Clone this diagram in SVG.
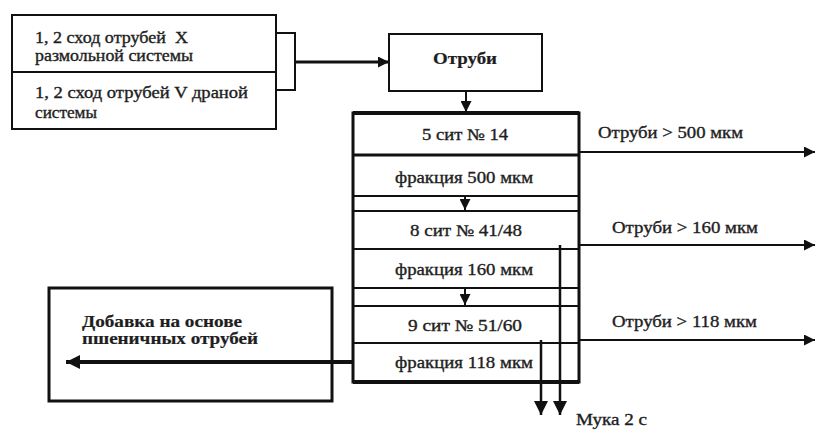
<svg xmlns="http://www.w3.org/2000/svg" width="815" height="430" viewBox="0 0 815 430">
<style>
  .box { fill: #fff; stroke: #111; }
  .ln { stroke: #111; fill: none; }
  .t { font-family: "Liberation Serif", "Times New Roman", serif; font-size: 16px; fill: #1e1e1e; stroke: #1e1e1e; stroke-width: 0.35px; }
  .b { font-weight: bold; stroke-width: 0.2px; }
  .c { text-anchor: middle; }
</style>
<defs>
  <marker id="ah" viewBox="0 0 10 10" refX="10" refY="5" markerWidth="11" markerHeight="11" markerUnits="userSpaceOnUse" orient="auto">
    <path d="M0,0 L10,5 L0,10 z" fill="#111"/>
  </marker>
  <marker id="ahL" viewBox="0 0 10 10" refX="10" refY="5" markerWidth="14" markerHeight="14" markerUnits="userSpaceOnUse" orient="auto">
    <path d="M0,0 L10,5 L0,10 z" fill="#111"/>
  </marker>
</defs>
<rect width="815" height="430" fill="#fff"/>

<g id="sources">
  <rect class="box" x="12" y="15" width="264" height="114" stroke-width="2"/>
  <line class="ln" x1="12" y1="72" x2="276" y2="72" stroke-width="2"/>
  <text class="t" x="35" y="43" textLength="153" lengthAdjust="spacingAndGlyphs">1, 2 сход отрубей&#160; X</text>
  <text class="t" x="35" y="61" textLength="158" lengthAdjust="spacingAndGlyphs">размольной системы</text>
  <text class="t" x="35" y="98" textLength="213" lengthAdjust="spacingAndGlyphs">1, 2 сход отрубей V драной</text>
  <text class="t" x="35" y="118" textLength="62" lengthAdjust="spacingAndGlyphs">системы</text>
</g>

<g id="bran">
  <rect class="box" x="389" y="34" width="153" height="57" stroke-width="2"/>
  <text class="t b c" x="465" y="64" textLength="64" lengthAdjust="spacingAndGlyphs">Отруби</text>
</g>

<g id="sieves">
  <rect class="box" x="353" y="113" width="226" height="269" stroke-width="3"/>
  <line class="ln" x1="353" y1="113" x2="579" y2="113" stroke-width="4"/>
  <line class="ln" x1="353" y1="155" x2="579" y2="155" stroke-width="3"/>
  <line class="ln" x1="353" y1="196" x2="579" y2="196" stroke-width="2"/>
  <line class="ln" x1="353" y1="211" x2="579" y2="211" stroke-width="2"/>
  <line class="ln" x1="353" y1="249" x2="579" y2="249" stroke-width="2"/>
  <line class="ln" x1="353" y1="288" x2="579" y2="288" stroke-width="2"/>
  <line class="ln" x1="353" y1="306" x2="579" y2="306" stroke-width="2"/>
  <line class="ln" x1="353" y1="343" x2="579" y2="343" stroke-width="2"/>
  <line class="ln" x1="353" y1="382" x2="579" y2="382" stroke-width="4"/>
  <text class="t c" x="465" y="140" textLength="86" lengthAdjust="spacingAndGlyphs">5 сит № 14</text>
  <text class="t c" x="464" y="183" textLength="138" lengthAdjust="spacingAndGlyphs">фракция 500 мкм</text>
  <text class="t c" x="466" y="236" textLength="112" lengthAdjust="spacingAndGlyphs">8 сит № 41/48</text>
  <text class="t c" x="464" y="275" textLength="138" lengthAdjust="spacingAndGlyphs">фракция 160 мкм</text>
  <text class="t c" x="465" y="331" textLength="114" lengthAdjust="spacingAndGlyphs">9 сит № 51/60</text>
  <text class="t c" x="464" y="368" textLength="138" lengthAdjust="spacingAndGlyphs">фракция 118 мкм</text>
</g>

<g id="additive">
  <rect class="box" x="49" y="288" width="283" height="113" stroke-width="3"/>
  <text class="t b" x="82" y="327" textLength="160" lengthAdjust="spacingAndGlyphs">Добавка на основе</text>
  <text class="t b" x="82" y="344" textLength="176" lengthAdjust="spacingAndGlyphs">пшеничных отрубей</text>
</g>

<g id="labels">
  <text class="t" x="598" y="138" textLength="145" lengthAdjust="spacingAndGlyphs">Отруби &gt; 500 мкм</text>
  <text class="t" x="612" y="233" textLength="146" lengthAdjust="spacingAndGlyphs">Отруби &gt; 160 мкм</text>
  <text class="t" x="612" y="327" textLength="145" lengthAdjust="spacingAndGlyphs">Отруби &gt; 118 мкм</text>
  <text class="t" x="576" y="425" textLength="71" lengthAdjust="spacingAndGlyphs">Мука 2 с</text>
</g>

<g id="connectors">
  <polyline class="ln" points="276,33 295,33 295,90 276,90" stroke-width="2"/>
  <line class="ln" x1="295" y1="62" x2="389" y2="62" stroke-width="3" marker-end="url(#ah)"/>
  <line class="ln" x1="466" y1="91" x2="466" y2="112" stroke-width="2" marker-end="url(#ah)"/>
  <line class="ln" x1="465" y1="196" x2="465" y2="210" stroke-width="2" marker-end="url(#ah)"/>
  <line class="ln" x1="465" y1="288" x2="465" y2="305" stroke-width="2" marker-end="url(#ah)"/>
  <line class="ln" x1="579" y1="152" x2="815" y2="152" stroke-width="2" marker-end="url(#ah)"/>
  <line class="ln" x1="579" y1="245" x2="815" y2="245" stroke-width="2" marker-end="url(#ah)"/>
  <line class="ln" x1="579" y1="340" x2="815" y2="340" stroke-width="2" marker-end="url(#ah)"/>
  <line class="ln" x1="560" y1="245" x2="560" y2="415" stroke-width="2.5" marker-end="url(#ahL)"/>
  <line class="ln" x1="541" y1="340" x2="541" y2="415" stroke-width="2.5" marker-end="url(#ahL)"/>
  <line class="ln" x1="353" y1="362" x2="66" y2="362" stroke-width="4" marker-end="url(#ahL)"/>
</g>
</svg>
